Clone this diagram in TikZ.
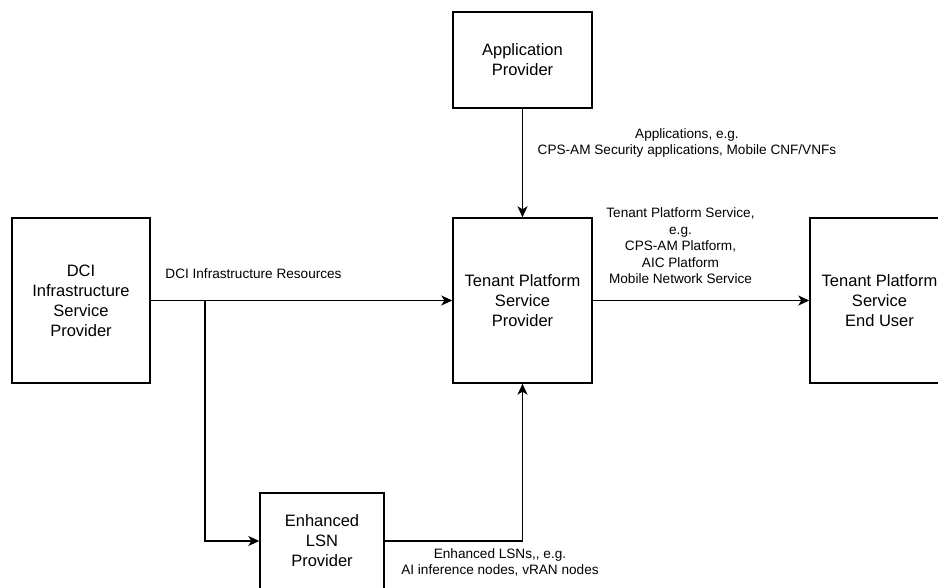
\documentclass[tikz,border=0pt]{standalone}
\usepackage{fontspec}
\setmainfont{Liberation Sans}
\usetikzlibrary{arrows.meta}
\tikzset{
	box/.style={draw, line width=1.4pt, minimum width=139pt, minimum height=165pt, inner sep=0pt, align=center, font=\fontsize{16.5}{20}\selectfont},
	lbl/.style={inner sep=0pt, align=center, font=\fontsize{13.6}{16.5}\selectfont},
	flow/.style={line width=1.4pt, -{Stealth[length=11pt,width=10pt,inset=3pt]}}
}
\begin{document}
\begin{tikzpicture}[x=1pt,y=-1pt]
	\useasboundingbox (0,0) rectangle (938,588);
	\clip (0,0) rectangle (938,588);
	\node[box, minimum width=138pt] (dci) at (81,300.5) {DCI\\Infrastructure\\Service\\Provider};
	\node[box, minimum height=96pt] (app) at (522.5,60) {Application\\Provider};
	\node[box] (tpsp) at (522.5,300.5) {Tenant Platform\\Service\\Provider};
	\node[box] (user) at (879.5,300.5) {Tenant Platform\\Service\\End User};
	\node[box, minimum width=124pt, minimum height=96pt] (elsn) at (322,541) {Enhanced\\LSN\\Provider};
	\coordinate (split) at (205,300.5);
	\node[lbl] (dcires) at (253.5,274) {DCI Infrastructure Resources};
	\node[lbl] (apps) at (687,143) {Applications, e.g.\\CPS-AM Security applications, Mobile CNF/VNFs};
	\node[lbl] (tpsvc) at (680.5,246) {Tenant Platform Service,\\e.g.\\CPS-AM Platform,\\AIC Platform\\Mobile Network Service};
	\node[lbl] (lsns) at (500,562.5) {Enhanced LSNs,{},{} e.g.\\AI inference nodes, vRAN nodes};
	\draw[flow] (dci) -- (tpsp);
	\draw[flow] (app) -- (tpsp);
	\draw[flow] (tpsp) -- (user);
	\draw[flow] (split) |- (elsn.west);
	\draw[flow] (elsn.east) -| (tpsp.south);
\end{tikzpicture}
\end{document}
